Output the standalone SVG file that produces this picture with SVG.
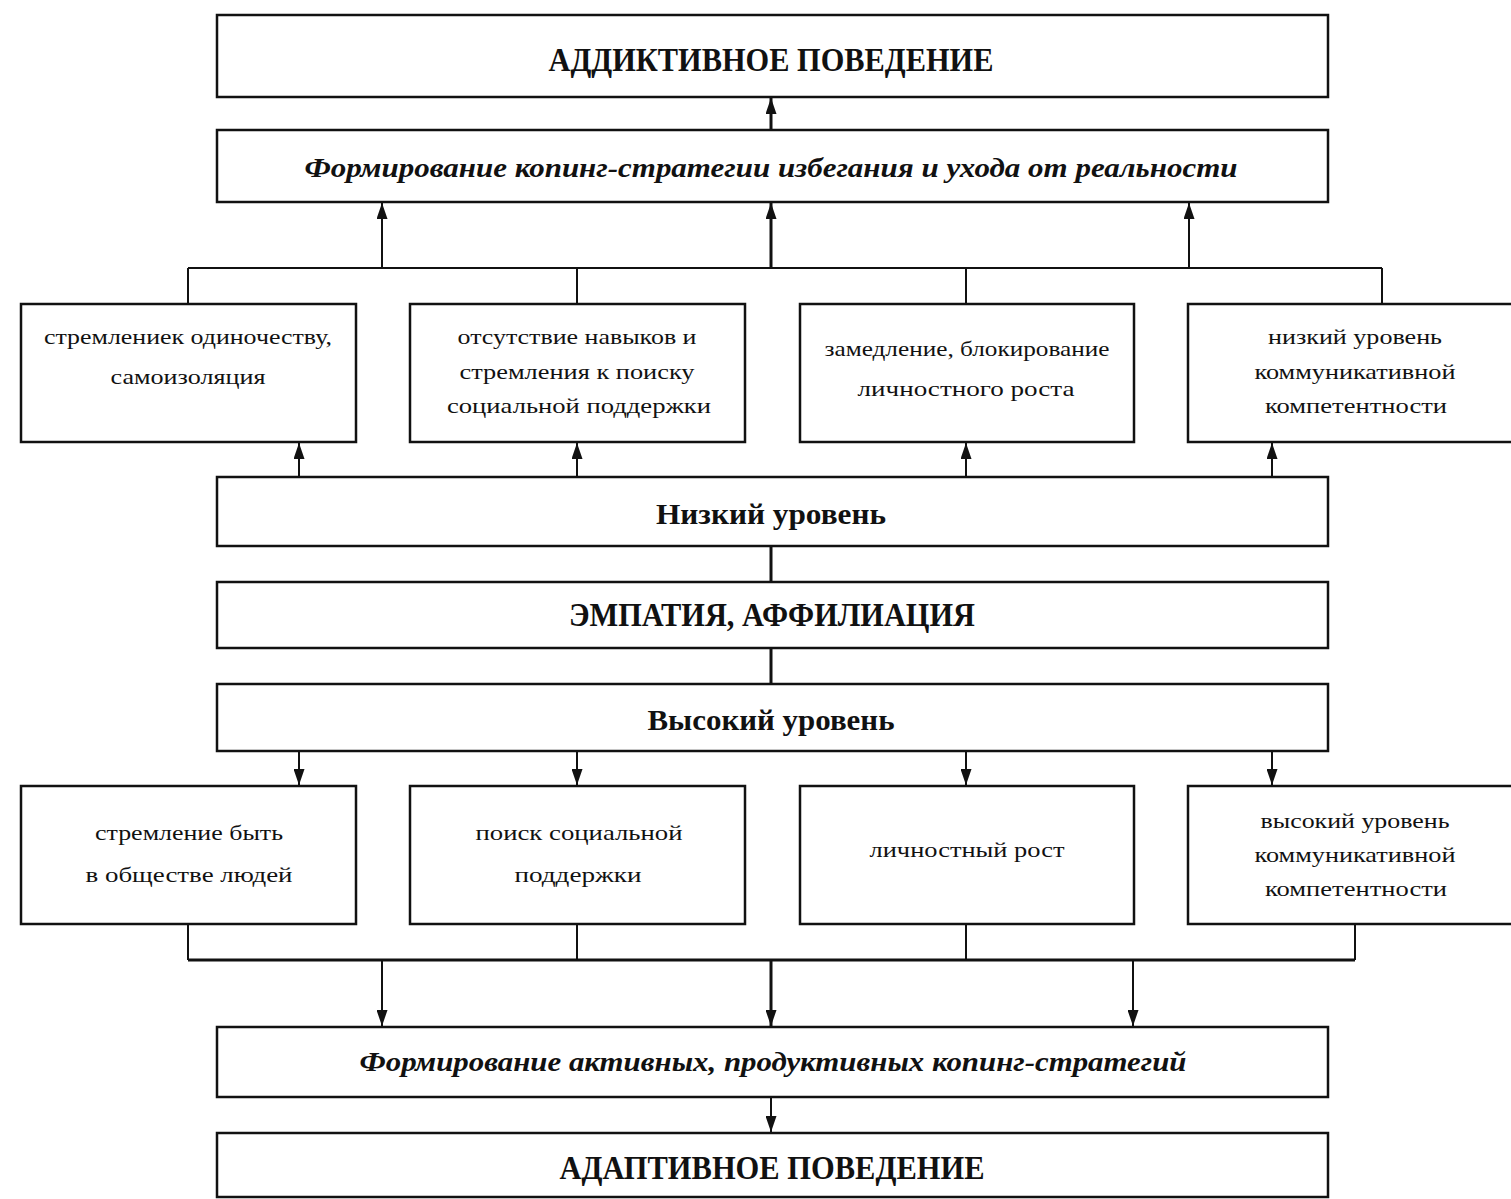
<svg xmlns="http://www.w3.org/2000/svg" width="1511" height="1199" viewBox="0 0 1511 1199">
<style>
.box{fill:#fff;stroke:#111;stroke-width:2.5}
.ln{fill:none;stroke:#111;stroke-width:2}
.thick{stroke-width:3}
.t{font-family:"Liberation Serif","Times New Roman",serif;fill:#111;text-anchor:middle}
.big{font-size:33px;font-weight:bold}
.mid{font-size:29px;font-weight:bold}
.it{font-size:28px;font-weight:bold;font-style:italic}
.sm{font-size:22px}
</style>
<defs>
<marker id="ah" markerWidth="16" markerHeight="11" refX="16" refY="5.5" orient="auto" markerUnits="userSpaceOnUse" viewBox="0 0 16 11">
<path d="M0,0 L16,5.5 L0,11 Z" fill="#111"/>
</marker>
</defs>
<rect width="1511" height="1199" fill="#fff"/>
<g id="connectors">
<line class="ln thick" x1="771" y1="130" x2="771" y2="98" marker-end="url(#ah)"/>
<line class="ln" x1="188" y1="268" x2="1382" y2="268"/>
<line class="ln" x1="382" y1="268" x2="382" y2="203" marker-end="url(#ah)"/>
<line class="ln thick" x1="771" y1="268" x2="771" y2="203" marker-end="url(#ah)"/>
<line class="ln" x1="1189" y1="268" x2="1189" y2="203" marker-end="url(#ah)"/>
<line class="ln" x1="188" y1="268" x2="188" y2="304"/>
<line class="ln" x1="577" y1="268" x2="577" y2="304"/>
<line class="ln" x1="966" y1="268" x2="966" y2="304"/>
<line class="ln" x1="1382" y1="268" x2="1382" y2="304"/>
<line class="ln" x1="299" y1="477" x2="299" y2="443" marker-end="url(#ah)"/>
<line class="ln" x1="577" y1="477" x2="577" y2="443" marker-end="url(#ah)"/>
<line class="ln" x1="966" y1="477" x2="966" y2="443" marker-end="url(#ah)"/>
<line class="ln" x1="1272" y1="477" x2="1272" y2="443" marker-end="url(#ah)"/>
<line class="ln thick" x1="771" y1="546" x2="771" y2="582"/>
<line class="ln thick" x1="771" y1="648" x2="771" y2="684"/>
<line class="ln" x1="299" y1="751" x2="299" y2="785" marker-end="url(#ah)"/>
<line class="ln" x1="577" y1="751" x2="577" y2="785" marker-end="url(#ah)"/>
<line class="ln" x1="966" y1="751" x2="966" y2="785" marker-end="url(#ah)"/>
<line class="ln" x1="1272" y1="751" x2="1272" y2="785" marker-end="url(#ah)"/>
<line class="ln" x1="188" y1="924" x2="188" y2="960"/>
<line class="ln" x1="577" y1="924" x2="577" y2="960"/>
<line class="ln" x1="966" y1="924" x2="966" y2="960"/>
<line class="ln" x1="1355" y1="924" x2="1355" y2="960"/>
<line class="ln thick" x1="188" y1="960" x2="1355" y2="960"/>
<line class="ln" x1="382" y1="960" x2="382" y2="1026" marker-end="url(#ah)"/>
<line class="ln thick" x1="771" y1="960" x2="771" y2="1026" marker-end="url(#ah)"/>
<line class="ln" x1="1133" y1="960" x2="1133" y2="1026" marker-end="url(#ah)"/>
<line class="ln" x1="771" y1="1097" x2="771" y2="1132" marker-end="url(#ah)"/>
</g>
<g id="n-addictive">
<rect class="box" x="217" y="15" width="1111" height="82"/>
<text class="t big" x="771" y="71" textLength="445" lengthAdjust="spacingAndGlyphs">АДДИКТИВНОЕ ПОВЕДЕНИЕ</text>
</g>
<g id="n-avoid">
<rect class="box" x="217" y="130" width="1111" height="72"/>
<text class="t it" x="771" y="177" textLength="933" lengthAdjust="spacingAndGlyphs">Формирование копинг-стратегии избегания и ухода от реальности</text>
</g>
<g id="n-u1">
<rect class="box" x="21" y="304" width="335" height="138"/>
<text class="t sm" x="188" y="344" textLength="288" lengthAdjust="spacingAndGlyphs">стремлениек одиночеству,</text>
<text class="t sm" x="188" y="384" textLength="155" lengthAdjust="spacingAndGlyphs">самоизоляция</text>
</g>
<g id="n-u2">
<rect class="box" x="410" y="304" width="335" height="138"/>
<text class="t sm" x="577" y="344" textLength="239" lengthAdjust="spacingAndGlyphs">отсутствие навыков и</text>
<text class="t sm" x="577" y="379" textLength="235" lengthAdjust="spacingAndGlyphs">стремления к поиску</text>
<text class="t sm" x="579" y="413" textLength="264" lengthAdjust="spacingAndGlyphs">социальной поддержки</text>
</g>
<g id="n-u3">
<rect class="box" x="800" y="304" width="334" height="138"/>
<text class="t sm" x="967" y="356" textLength="285" lengthAdjust="spacingAndGlyphs">замедление, блокирование</text>
<text class="t sm" x="966" y="396" textLength="217" lengthAdjust="spacingAndGlyphs">личностного роста</text>
</g>
<g id="n-u4">
<rect class="box" x="1188" y="304" width="330" height="138"/>
<text class="t sm" x="1355" y="344" textLength="174" lengthAdjust="spacingAndGlyphs">низкий уровень</text>
<text class="t sm" x="1355" y="379" textLength="201" lengthAdjust="spacingAndGlyphs">коммуникативной</text>
<text class="t sm" x="1356" y="413" textLength="182" lengthAdjust="spacingAndGlyphs">компетентности</text>
</g>
<g id="n-low">
<rect class="box" x="217" y="477" width="1111" height="69"/>
<text class="t mid" x="771" y="524" textLength="230" lengthAdjust="spacingAndGlyphs">Низкий уровень</text>
</g>
<g id="n-empathy">
<rect class="box" x="217" y="582" width="1111" height="66"/>
<text class="t big" x="772" y="626" textLength="406" lengthAdjust="spacingAndGlyphs">ЭМПАТИЯ, АФФИЛИАЦИЯ</text>
</g>
<g id="n-high">
<rect class="box" x="217" y="684" width="1111" height="67"/>
<text class="t mid" x="771" y="730" textLength="247" lengthAdjust="spacingAndGlyphs">Высокий уровень</text>
</g>
<g id="n-l1">
<rect class="box" x="21" y="786" width="335" height="138"/>
<text class="t sm" x="189" y="840" textLength="188" lengthAdjust="spacingAndGlyphs">стремление быть</text>
<text class="t sm" x="189" y="882" textLength="207" lengthAdjust="spacingAndGlyphs">в обществе людей</text>
</g>
<g id="n-l2">
<rect class="box" x="410" y="786" width="335" height="138"/>
<text class="t sm" x="579" y="840" textLength="207" lengthAdjust="spacingAndGlyphs">поиск социальной</text>
<text class="t sm" x="578" y="882" textLength="127" lengthAdjust="spacingAndGlyphs">поддержки</text>
</g>
<g id="n-l3">
<rect class="box" x="800" y="786" width="334" height="138"/>
<text class="t sm" x="967" y="857" textLength="195" lengthAdjust="spacingAndGlyphs">личностный рост</text>
</g>
<g id="n-l4">
<rect class="box" x="1188" y="786" width="330" height="138"/>
<text class="t sm" x="1355" y="828" textLength="189" lengthAdjust="spacingAndGlyphs">высокий уровень</text>
<text class="t sm" x="1355" y="862" textLength="201" lengthAdjust="spacingAndGlyphs">коммуникативной</text>
<text class="t sm" x="1356" y="896" textLength="182" lengthAdjust="spacingAndGlyphs">компетентности</text>
</g>
<g id="n-active">
<rect class="box" x="217" y="1027" width="1111" height="70"/>
<text class="t it" x="773" y="1071" textLength="827" lengthAdjust="spacingAndGlyphs">Формирование активных, продуктивных  копинг-стратегий</text>
</g>
<g id="n-adaptive">
<rect class="box" x="217" y="1133" width="1111" height="64"/>
<text class="t big" x="772" y="1179" textLength="425" lengthAdjust="spacingAndGlyphs">АДАПТИВНОЕ ПОВЕДЕНИЕ</text>
</g>
</svg>
